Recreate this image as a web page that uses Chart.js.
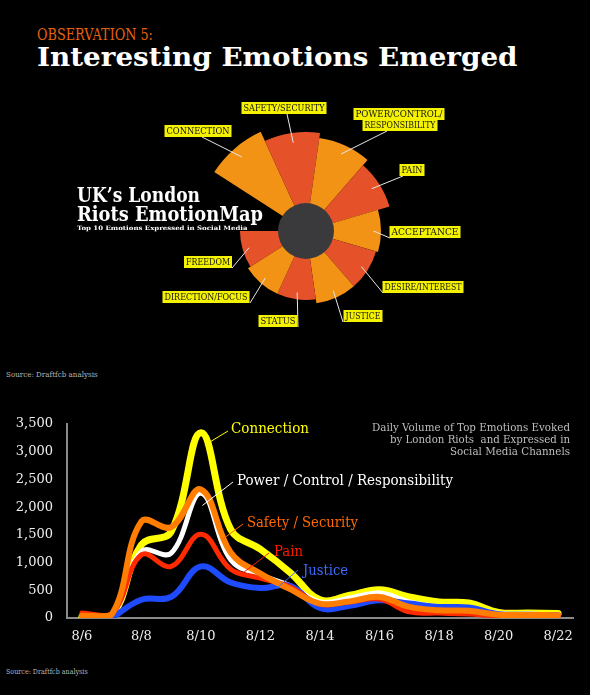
<!DOCTYPE html>
<html>
<head>
<meta charset="utf-8">
<script src="https://cdn.jsdelivr.net/npm/chart.js@4.4.0/dist/chart.umd.min.js"></script>
<style>
  html, body { margin: 0; padding: 0; background: #000; }
  body { width: 590px; height: 695px; position: relative; overflow: hidden; font-family: "DejaVu Serif", serif; -webkit-font-smoothing: antialiased; }
  canvas { position: absolute; left: 0; }
  .txt { position: absolute; white-space: nowrap; line-height: 1; transform-origin: 0 0; z-index: 2; }
  #obs { left: 37px; top: 26.5px; font-size: 16px; color: #e5620e; }
  #headline { left: 37px; top: 44px; font-size: 26px; font-weight: bold; color: #fff; }
  .mapTitle { left: 77px; font-size: 21px; font-weight: bold; color: #fff; }
  #mt3 { left: 77px; top: 224.5px; font-size: 6px; font-weight: bold; color: #fff; }
  .src { left: 6px; font-size: 8px; color: #b5b5b5; }
</style>
</head>
<body>
<div id="obs" class="txt" data-w="116">OBSERVATION 5:</div>
<div id="headline" class="txt" data-w="480">Interesting Emotions Emerged</div>
<div class="txt mapTitle" style="top:184px" data-w="123">UK’s London</div>
<div class="txt mapTitle" style="top:203px" data-w="186">Riots EmotionMap</div>
<div id="mt3" class="txt" data-w="171">Top 10 Emotions Expressed in Social Media</div>
<div class="txt src" style="top:371px" data-w="92">Source: Draftfcb analysis</div>
<div class="txt src" style="top:668px" data-w="82">Source: Draftfcb analysis</div>

<canvas id="map" width="590" height="270" style="top:90px"></canvas>
<canvas id="lines" width="590" height="260" style="top:400px"></canvas>

<script>
// ---- emotion map (top) ----
const emotions = ['CONNECTION', 'SAFETY/SECURITY', 'POWER/CONTROL/\nRESPONSIBILITY', 'PAIN', 'ACCEPTANCE',
  'DESIRE/INTEREST', 'JUSTICE', 'STATUS', 'DIRECTION/FOCUS', 'FREEDOM', ''];
const emotionScore = [109, 99, 94, 87, 75, 73, 73, 69, 69, 66, 0];

// ---- daily volume (bottom) ----
const days = ['8/6', '8/7', '8/8', '8/9', '8/10', '8/11', '8/12', '8/13', '8/14', '8/15', '8/16', '8/17', '8/18', '8/19', '8/20', '8/21', '8/22'];
const connection = [20, 30, 1320, 1560, 3340, 1600, 1240, 820, 330, 410, 510, 380, 290, 270, 100, 90, 80];
const power      = [30, 40, 1200, 1170, 2250, 1050, 780, 580, 290, 360, 450, 290, 200, 180, 80, 70, 60];
const safety     = [40, 60, 1740, 1640, 2320, 1180, 800, 520, 260, 300, 380, 200, 140, 130, 60, 55, 50];
const pain       = [90, 70, 1140, 930, 1510, 880, 720, 560, 250, 290, 340, 110, 90, 70, 40, 40, 40];
const justice    = [null, 0, 330, 380, 930, 640, 540, 580, 180, 220, 320, 260, 200, 190, 70, 60, 50];
const yTicks = [0, 500, 1000, 1500, 2000, 2500, 3000, 3500];

// layout bits (page coordinates)
const MAP_TOP = 90, LINES_TOP = 400;
const ORANGE = '#f39316', RED = '#e5522a';
const mapLabelLayout = [
  { boxes: [[198, 131, 67]], from: [202, 137] },
  { boxes: [[284, 108, 85]], from: [287, 114] },
  { boxes: [[399, 114, 91], [400, 125, 75]], from: [387, 131] },
  { boxes: [[412, 170, 25]], from: [403, 176] },
  { boxes: [[425, 232, 71]], from: [390, 238] },
  { boxes: [[423, 287, 81]], from: [383, 293] },
  { boxes: [[363, 316, 39]], from: [343, 322] },
  { boxes: [[278, 321, 39]], from: [298, 327] },
  { boxes: [[206, 297, 87]], from: [250, 303] },
  { boxes: [[208, 262, 48]], from: [232, 268] }
];

// fit the html text to the widths in the reference
document.querySelectorAll('[data-w]').forEach(el => {
  el.style.transform = 'scaleX(' + (+el.dataset.w / el.offsetWidth) + ')';
});

const mapLabels = {
  id: 'mapLabels',
  afterDatasetsDraw(chart) {
    const ctx = chart.ctx;
    const arcs = chart.getDatasetMeta(0).data;
    const r = chart.scales.r;
    ctx.save();
    // grey hub
    ctx.fillStyle = '#3a3a3c';
    ctx.beginPath();
    ctx.arc(r.xCenter, r.yCenter, 28, 0, Math.PI * 2);
    ctx.fill();
    ctx.strokeStyle = '#e6e6e6';
    ctx.lineWidth = 1;
    mapLabelLayout.forEach((lab, i) => {
      const a = arcs[i];
      const mid = (a.startAngle + a.endAngle) / 2;
      const rr = a.outerRadius * 0.9;
      ctx.beginPath();
      ctx.moveTo(lab.from[0], lab.from[1] - MAP_TOP);
      ctx.lineTo(a.x + Math.cos(mid) * rr, a.y + Math.sin(mid) * rr);
      ctx.stroke();
    });
    ctx.font = '10px "DejaVu Serif"';
    ctx.textAlign = 'center';
    ctx.textBaseline = 'middle';
    mapLabelLayout.forEach((lab, i) => {
      const lines = emotions[i].split('\n');
      lab.boxes.forEach((b, j) => {
        const [cx, cy, w] = b;
        ctx.fillStyle = '#f5f200';
        ctx.fillRect(cx - w / 2, cy - 6 - MAP_TOP, w, 12);
        ctx.fillStyle = '#111';
        ctx.fillText(lines[j], cx, cy - MAP_TOP + 0.5, w - 4);
      });
    });
    ctx.restore();
  }
};

new Chart(document.getElementById('map'), {
  type: 'polarArea',
  data: {
    labels: emotions,
    datasets: [{
      data: emotionScore,
      backgroundColor: emotionScore.map((v, i) => i % 2 ? RED : ORANGE),
      borderWidth: 0
    }]
  },
  options: {
    responsive: false,
    animation: false,
    layout: { padding: { left: 186, right: 164, top: 21, bottom: 9 } },
    plugins: { legend: { display: false }, tooltip: { enabled: false } },
    scales: {
      r: {
        display: false,
        min: 0,
        max: 120,
        startAngle: -57.3,
        ticks: { display: false },
        grid: { display: false },
        angleLines: { display: false },
        pointLabels: { display: false }
      }
    }
  },
  plugins: [mapLabels]
});

// ---- line chart ----
const lineNotes = [
  { text: 'Connection', color: '#ffff00', at: [4.13, 3120], tx: 231, ty: 429, from: [228, 431], w: 78 },
  { text: 'Power / Control / Responsibility', color: '#ffffff', at: [4.05, 2030], tx: 237, ty: 481, from: [233, 482], w: 216 },
  { text: 'Safety / Security', color: '#ff6a00', at: [4.7, 1410], tx: 247, ty: 523, from: [243, 524], w: 111 },
  { text: 'Pain', color: '#ff1a00', at: [5.45, 830], tx: 274, ty: 552, from: [269, 553], w: 29 },
  { text: 'Justice', color: '#3b6bff', at: [6.55, 540], tx: 303, ty: 571, from: [298, 570], w: 45 }
];
const subtitle = ['Daily Volume of Top Emotions Evoked', 'by London Riots  and Expressed in', 'Social Media Channels'];

const notes = {
  id: 'notes',
  afterDatasetsDraw(chart) {
    const ctx = chart.ctx, xs = chart.scales.x, ys = chart.scales.y;
    ctx.save();
    ctx.lineWidth = 1;
    ctx.font = '14px "DejaVu Serif"';
    ctx.textBaseline = 'middle';
    lineNotes.forEach(n => {
      ctx.strokeStyle = n.color;
      ctx.beginPath();
      ctx.moveTo(n.from[0], n.from[1] - LINES_TOP);
      ctx.lineTo(xs.getPixelForValue(n.at[0]), ys.getPixelForValue(n.at[1]));
      ctx.stroke();
      ctx.fillStyle = n.color;
      ctx.textAlign = 'left';
      ctx.fillText(n.text, n.tx, n.ty - LINES_TOP, n.w);
    });
    ctx.font = '11px "DejaVu Serif"';
    ctx.fillStyle = '#bdbdbd';
    ctx.textAlign = 'right';
    subtitle.forEach((s, i) => ctx.fillText(s, 570, 428 + i * 12 - LINES_TOP, [198, 180, 120][i]));
    ctx.restore();
  }
};

const tickFont = { family: 'DejaVu Serif', size: 13 };
new Chart(document.getElementById('lines'), {
  type: 'line',
  data: {
    labels: days,
    datasets: [
      { label: 'Safety / Security', data: safety, borderColor: '#ff7d00', borderWidth: 6, order: 0 },
      { label: 'Pain', data: pain, borderColor: '#ff2a00', borderWidth: 5, order: 1 },
      { label: 'Justice', data: justice, borderColor: '#1f4bff', borderWidth: 6, order: 2 },
      { label: 'Power / Control / Responsibility', data: power, borderColor: '#ffffff', borderWidth: 5, order: 3 },
      { label: 'Connection', data: connection, borderColor: '#ffff00', borderWidth: 7, order: 4 }
    ]
  },
  options: {
    responsive: false,
    animation: false,
    layout: { padding: { top: 24, right: 17, left: 0, bottom: 0 } },
    elements: {
      point: { radius: 0 },
      line: { tension: 0.4, borderCapStyle: 'round', borderJoinStyle: 'round', fill: false }
    },
    plugins: { legend: { display: false }, tooltip: { enabled: false } },
    scales: {
      x: {
        offset: true,
        grid: { display: false, drawTicks: false },
        border: { color: '#8a8a8a', width: 2 },
        ticks: {
          color: '#eeeeee', font: tickFont, padding: 11, autoSkip: false, maxRotation: 0,
          callback: (v, i) => i % 2 === 0 ? days[i] : ''
        },
        afterFit: s => { s.height = 42; }
      },
      y: {
        min: 0,
        max: 3500,
        grid: { display: false, drawTicks: false },
        border: { color: '#8a8a8a', width: 2 },
        ticks: {
          color: '#eeeeee', font: tickFont, padding: 14, stepSize: 500,
          callback: v => yTicks.includes(v) ? v.toLocaleString('en-US') : ''
        },
        afterFit: s => { s.width = 67; }
      }
    }
  },
  plugins: [notes]
});
</script>
</body>
</html>
